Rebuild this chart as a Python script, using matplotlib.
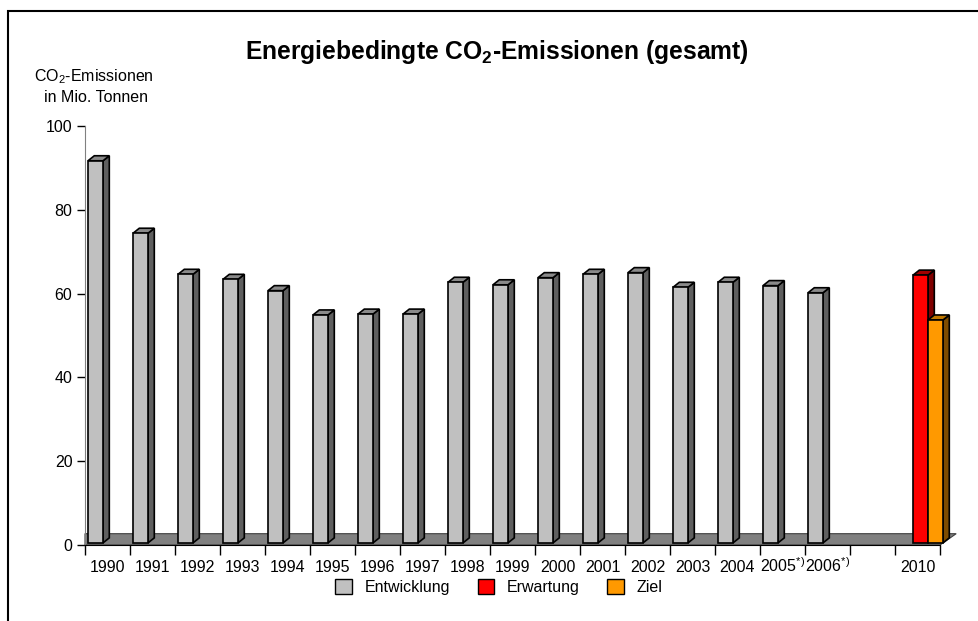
import numpy as np
import matplotlib
matplotlib.use("Agg")
import matplotlib.pyplot as plt
from matplotlib.patches import Polygon, Rectangle, Patch

plt.rcParams['font.family'] = ['Liberation Sans', 'DejaVu Sans']
plt.rcParams['mathtext.fontset'] = 'custom'
plt.rcParams['mathtext.rm'] = 'Liberation Sans'
plt.rcParams['mathtext.it'] = 'Liberation Sans:italic'
plt.rcParams['mathtext.bf'] = 'Liberation Sans:bold'

# data
categories = ['1990', '1991', '1992', '1993', '1994', '1995', '1996', '1997', '1998',
              '1999', '2000', '2001', '2002', '2003', '2004', '2005$^{*)}$', '2006$^{*)}$',
              '', '2010']
entwicklung = [91.7, 74.4, 64.6, 63.4, 60.7, 54.9, 55.1, 55.1, 62.7,
               62.1, 63.8, 64.6, 65.0, 61.5, 62.7, 61.9, 60.2]
erwartung = [64.4]   # 2010
ziel = [53.7]        # 2010
ziel_index = categories.index('2010')

series_colors = {
    'Entwicklung': ('#C0C0C0', '#5F5F5F', '#8A8A8A'),
    'Erwartung': ('#FF0000', '#800000', '#A00000'),
    'Ziel': ('#FF9900', '#7F4C00', '#C07800'),
}

W, H = 979, 621
fig = plt.figure(figsize=(W / 100, H / 100), dpi=100)
ax = fig.add_axes([85 / W, (H - 545) / H, 855 / W, 419 / H])
ax.set_xlim(0, len(categories))
ax.set_ylim(0, 100)

bw = 15 / 45      # bar width in category units
dx = 0.14         # depth offsets
dy = 1.2
base = 0.5


def bar3d(x, h, colors, z):
    front, side, top = colors
    kw = dict(edgecolor='black', linewidth=1.2, joinstyle='miter', zorder=z, clip_on=False)
    ax.add_patch(Polygon([(x + bw, base), (x + bw + dx, base + dy), (x + bw + dx, h + dy), (x + bw, h)],
                         facecolor=side, **kw))
    ax.add_patch(Polygon([(x, h), (x + dx, h + dy), (x + bw + dx, h + dy), (x + bw, h)],
                         facecolor=top, **kw))
    ax.add_patch(Rectangle((x, base), bw, h - base, facecolor=front, **kw))


# floor
n = len(categories)
ax.add_patch(Polygon([(0, 0), (n, 0), (n + 0.36, 2.7), (0, 2.7)], facecolor='#808080',
                     edgecolor='#404040', linewidth=0.8, zorder=1, clip_on=False))

z = 3
for i, v in enumerate(entwicklung):
    bar3d(i + 3 / 45, v, series_colors['Entwicklung'], z)
    z += 1
bar3d(ziel_index + 18 / 45, erwartung[0], series_colors['Erwartung'], z)
bar3d(ziel_index + 33 / 45, ziel[0], series_colors['Ziel'], z + 1)

# axes styling
for s in ['top', 'right']:
    ax.spines[s].set_visible(False)
ax.spines['left'].set_color('#808080')
ax.spines['bottom'].set_color('black')
ax.spines['bottom'].set_zorder(20)
ax.set_yticks([0, 20, 40, 60, 80, 100])
ax.tick_params(axis='y', length=6, width=1, color='black', labelsize=11.5, pad=3)
ax.set_xticks(np.arange(n + 1))
ax.set_xticklabels([])
ax.set_xticks(np.arange(n) + 0.5, minor=True)
ax.set_xticklabels(categories, minor=True)
ax.tick_params(axis='x', which='major', length=7, width=1, color='black')
ax.tick_params(axis='x', which='minor', length=0, labelsize=11.5, pad=19.5)
plt.setp(ax.get_xticklabels(minor=True), va='baseline')

fig.text(497 / W, 1 - 52 / H, r'Energiebedingte CO$_\mathbf{2}$-Emissionen (gesamt)',
         ha='center', va='center', fontsize=17.7, fontweight='bold')
fig.text(94 / W, 1 - 77 / H, r'CO$_\mathrm{2}$-Emissionen', ha='center', va='center', fontsize=11.5)
fig.text(96 / W, 1 - 98 / H, 'in Mio. Tonnen', ha='center', va='center', fontsize=11.5)

handles = [Patch(facecolor=series_colors[k][0], edgecolor='black', linewidth=1, label=k)
           for k in ['Entwicklung', 'Erwartung', 'Ziel']]
fig.legend(handles=handles, loc='center', bbox_to_anchor=(499 / W, 1 - 587 / H), ncol=3,
           frameon=False, fontsize=11.5, handlelength=1.05, handleheight=1.05,
           handletextpad=0.8, columnspacing=1.7)

# outer frame
fig.add_artist(Rectangle((8 / W, -0.1), 1.2, 1.1 - 11 / H, transform=fig.transFigure,
                         fill=False, edgecolor='black', linewidth=1.5))

fig.savefig('out.png', dpi=100)
